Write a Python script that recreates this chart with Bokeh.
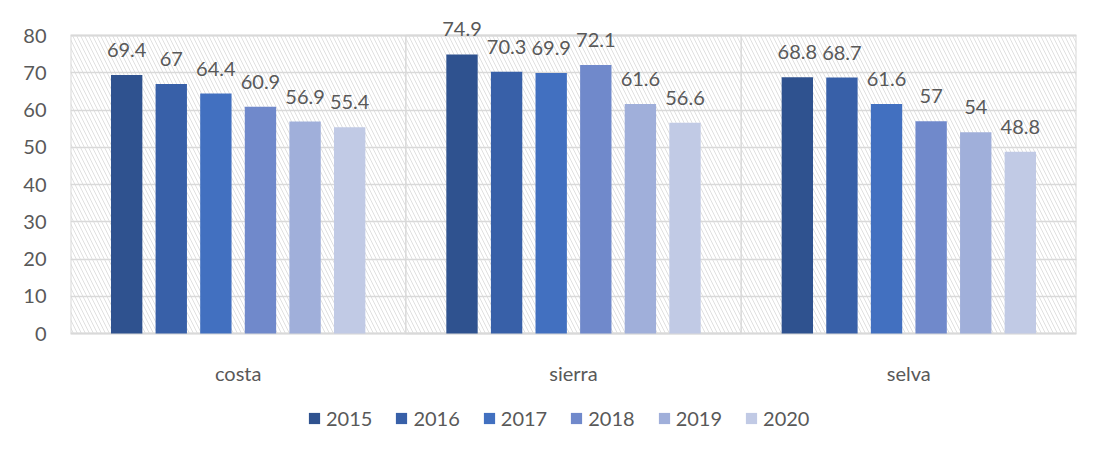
from bokeh.plotting import figure
from bokeh.models import (ColumnDataSource, FactorRange, LabelSet, Legend, LegendItem,
                          BoxAnnotation, FixedTicker)
from bokeh.core.properties import value
from bokeh.transform import dodge
from bokeh.embed import file_html
from bokeh.resources import INLINE

regions = ["costa", "sierra", "selva"]
years = ["2015", "2016", "2017", "2018", "2019", "2020"]
v2015 = [69.4, 74.9, 68.8]
v2016 = [67, 70.3, 68.7]
v2017 = [64.4, 69.9, 61.6]
v2018 = [60.9, 72.1, 57]
v2019 = [56.9, 61.6, 54]
v2020 = [55.4, 56.6, 48.8]
series = [v2015, v2016, v2017, v2018, v2019, v2020]
colors = ["#2F528F", "#3860A8", "#4270C0", "#7089CB", "#A0AFDA", "#C1CAE5"]
yticks = [0, 10, 20, 30, 40, 50, 60, 70, 80]

FONT = "Lato"
TXT = "#595959"
GRID = "#d9d9d9"
YMAX = 80
PX = 298 / 80                      # pixels per unit in the plot area
YTOP = YMAX + 25 / PX              # white headroom above the plot area for labels
YBOT = -113 / PX                   # room below for category names and legend

p = figure(x_range=FactorRange(*regions, range_padding=0), y_range=(YBOT, YTOP),
           width=1089, height=446, output_backend="svg", toolbar_location=None,
           min_border_left=70, min_border_right=13, min_border_top=10, min_border_bottom=0)

# hatched plot-area background
p.add_layout(BoxAnnotation(left=0, right=3, bottom=0, top=YMAX, fill_alpha=0, line_alpha=0,
                           hatch_pattern="\\", hatch_color="#e0e0e0", hatch_alpha=1,
                           hatch_scale=8, hatch_weight=1, level="image"))
# category separators and plot-area border
p.add_layout(BoxAnnotation(left=1, right=2, bottom=0, top=YMAX, fill_alpha=0,
                           line_color=GRID, line_alpha=1, line_width=1.5, level="underlay"))
p.add_layout(BoxAnnotation(left=0, right=3, bottom=0, top=YMAX, fill_alpha=0,
                           line_color=GRID, line_alpha=1, line_width=2, level="underlay"))

step = 0.133
width = 0.0935
items = []
for i, (yr, vals, c) in enumerate(zip(years, series, colors)):
    off = (i - 2.5) * step
    src = ColumnDataSource(dict(x=regions, y=vals, lab=[f"{v:g}" for v in vals]))
    r = p.vbar(x=dodge("x", off, range=p.x_range), top="y", width=width, source=src,
               fill_color=c, line_color=None)
    items.append(LegendItem(label=yr, renderers=[r]))
    p.add_layout(LabelSet(x=dodge("x", off, range=p.x_range), y="y", text="lab", source=src,
                          text_align="center", text_baseline="alphabetic", y_offset=18,
                          text_font=value(FONT), text_font_size="20px", text_color=TXT))

# category names under the plot area
cat_src = ColumnDataSource(dict(x=regions, y=[0] * len(regions), lab=regions))
p.add_layout(LabelSet(x="x", y="y", text="lab", source=cat_src, text_align="center",
                      text_baseline="alphabetic", y_offset=-47, text_font=value(FONT),
                      text_font_size="20px", text_color=TXT))

legend = Legend(items=items, orientation="horizontal", location=(237, 16),
                glyph_width=14, glyph_height=14, label_standoff=5, spacing=22,
                padding=0, margin=0, border_line_color=None, background_fill_alpha=0,
                label_text_font=FONT, label_text_font_size="20px", label_text_color=TXT)
p.add_layout(legend, "center")

p.xaxis.visible = False
p.yaxis.ticker = FixedTicker(ticks=yticks)
p.ygrid.grid_line_color = GRID
p.ygrid.grid_line_width = 1.5
p.xgrid.grid_line_color = None
p.outline_line_color = None

p.yaxis.axis_line_color = None
p.yaxis.major_tick_line_color = None
p.yaxis.minor_tick_line_color = None
p.yaxis.major_label_text_font = FONT
p.yaxis.major_label_text_font_size = "20px"
p.yaxis.major_label_text_color = TXT
p.yaxis.major_label_standoff = 18

open("out.html", "w").write(file_html(p, INLINE))
